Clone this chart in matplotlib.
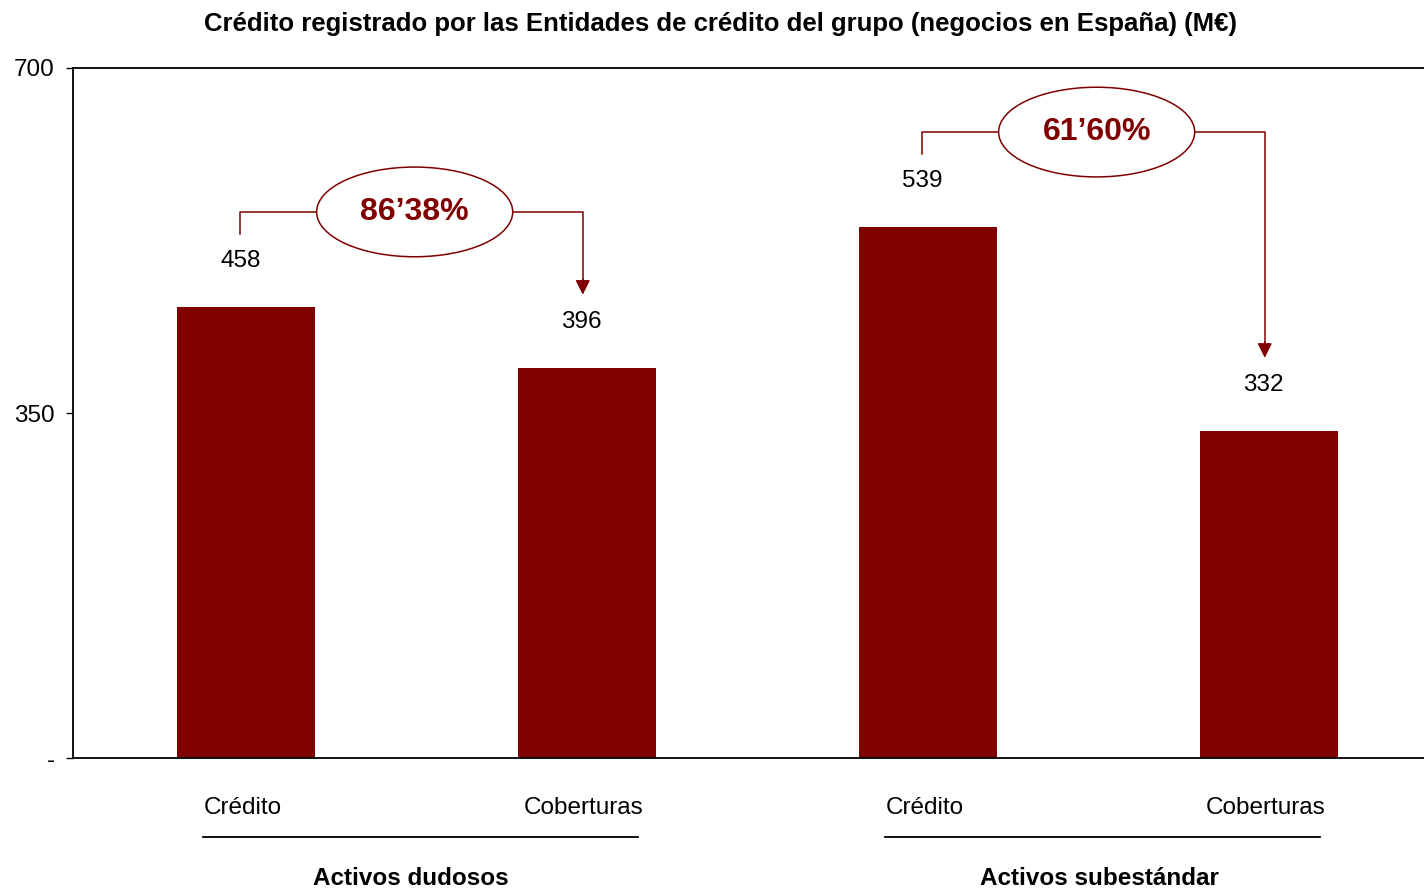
import matplotlib.pyplot as plt
from matplotlib.patches import Ellipse

# data
categories = ['Crédito', 'Coberturas', 'Crédito', 'Coberturas']
values = [458, 396, 539, 332]
groups = ['Activos dudosos', 'Activos subestándar']
ratios = ['86’38%', '61’60%']
yticks = [0, 350, 700]
ytick_labels = ['-', '350', '700']

maroon = '#800000'
plt.rcParams['font.family'] = ['Liberation Sans', 'DejaVu Sans']

fig = plt.figure(figsize=(14.24, 8.91), dpi=100)
ax = fig.add_axes([73 / 1424, 1 - 758 / 891, 1 - 73 / 1424, 690 / 891])

x = list(range(len(values)))
ax.bar(x, values, width=0.405, color=maroon, zorder=2)

ax.set_xlim(-0.507, 3.455)
ax.set_ylim(0, 700)
ax.set_yticks(yticks)
ax.set_yticklabels(ytick_labels, fontsize=17.5)
ax.set_xticks([])
ax.tick_params(axis='y', length=5, width=1, pad=8)
ax.spines['right'].set_visible(False)
for s in ['top', 'left', 'bottom']:
    ax.spines[s].set_linewidth(1.3)

# value labels above the bars
for xi, v in zip(x, values):
    ax.annotate(str(v), (xi - 0.015, v), xytext=(0, 33), textcoords='offset points',
                ha='center', va='center', fontsize=17.5)

# category labels under bars
for xi, c in zip(x, categories):
    ax.annotate(c, (xi - 0.01, 0), xycoords=('data', 'axes fraction'), xytext=(0, -36),
                textcoords='offset points', ha='center', va='center', fontsize=17.5)

# group lines and labels
for gi, g in enumerate(groups):
    x0 = 2 * gi - 0.125
    x1 = 2 * gi + 1 + 0.15
    ax.plot([x0, x1], [-79 / 690 * 700] * 2, color='black', lw=1.3, clip_on=False)
    ax.annotate(g, ((x0 + x1) / 2 - 0.03 + 0.02 * gi, 0), xycoords=('data', 'axes fraction'),
                xytext=(0, -87), textcoords='offset points', ha='center', va='center',
                fontsize=17.5, fontweight='bold')

# ratio connectors with ellipses
gap = 74
level = 96
for gi, r in enumerate(ratios):
    a = 2 * gi
    b = a + 1
    xa = a - 0.018
    xb = b - 0.012
    ya = values[a] + gap
    yl = values[a] + level
    yb = values[b] + gap
    ax.plot([xa, xa, xb, xb], [ya, yl, yl, yb + 14], color=maroon, lw=1.1, zorder=3)
    ax.annotate('', (xb, yb), xytext=(xb, yb + 16),
                arrowprops=dict(arrowstyle='-|>', color=maroon, lw=1.1,
                                mutation_scale=22, shrinkA=0, shrinkB=0), zorder=3)
    xc = (xa + xb) / 2 + 0.01
    ax.add_patch(Ellipse((xc, yl), 0.575, 91, facecolor='white', edgecolor=maroon,
                         lw=1.1, zorder=4))
    ax.text(xc, yl, r, ha='center', va='center', color=maroon, fontsize=23,
            fontweight='bold', zorder=5)

fig.text(721 / 1424, 1 - 24 / 891, 'Crédito registrado por las Entidades de crédito del grupo (negocios en España) (M€)',
         ha='center', va='center', fontsize=18.5, fontweight='bold')

fig.savefig('out.png', dpi=100)
